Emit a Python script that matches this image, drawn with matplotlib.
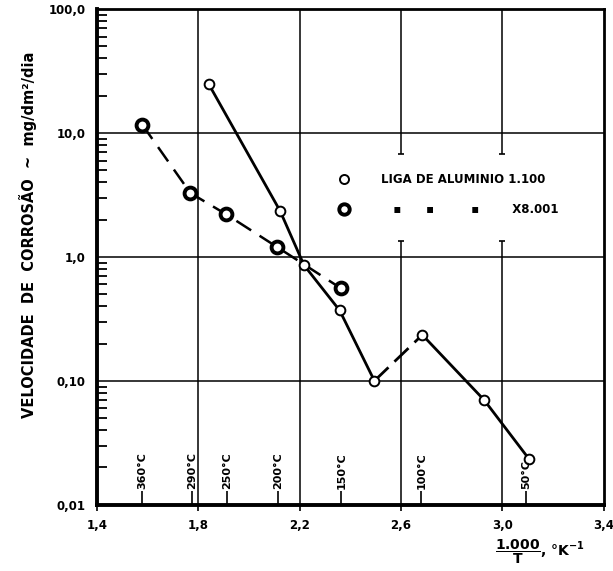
import matplotlib
matplotlib.use("Agg")
import matplotlib.pyplot as plt
from matplotlib.lines import Line2D

# liga de aluminio 1.100 (linha cheia)
x_1100 = [1.842, 2.123, 2.217, 2.358, 2.495, 2.684, 2.928, 3.105]
y_1100 = [24.7, 2.35, 0.86, 0.37, 0.10, 0.235, 0.070, 0.0234]

# liga X8.001 (tracejada)
x_8001 = [1.579, 1.769, 1.910, 2.109, 2.362]
y_8001 = [11.7, 3.28, 2.21, 1.21, 0.56]

# marcas de temperatura no eixo x
temp_x = [1.580, 1.776, 1.912, 2.114, 2.364, 2.680, 3.095]
temp_labels = ["360°C", "290°C", "250°C", "200°C", "150°C", "100°C", "50°C"]

x_ticks = [1.4, 1.8, 2.2, 2.6, 3.0, 3.4]
x_ticklabels = ["1,4", "1,8", "2,2", "2,6", "3,0", "3,4"]
y_ticks = [0.01, 0.1, 1, 10, 100]
y_ticklabels = ["0,01", "0,10", "1,0", "10,0", "100,0"]

plt.rcParams['font.family'] = ['DejaVu Sans']
plt.rcParams['font.weight'] = 'bold'

fig = plt.figure(figsize=(6.13, 5.71), dpi=100)
ax = fig.add_axes([0.158, 0.116, 0.827, 0.868])
ax.set_yscale('log')
ax.set_xlim(1.4, 3.4)
ax.set_ylim(0.01, 100)

# grade
for yv in y_ticks[1:-1]:
    ax.axhline(yv, color='black', lw=1.1, zorder=1)
gap = (1.35, 6.8)
for xv in x_ticks[1:-1]:
    if xv in (2.6, 3.0):
        ax.vlines(xv, 0.01, gap[0], color='black', lw=1.1, zorder=1)
        ax.vlines(xv, gap[1], 100, color='black', lw=1.1, zorder=1)
        ax.plot([xv, xv], gap, ls='none', marker='_', ms=5, mew=1.2, color='black')
    else:
        ax.vlines(xv, 0.01, 100, color='black', lw=1.1, zorder=1)

# curvas
ax.plot(x_1100[:5], y_1100[:5], color='black', lw=2.0, zorder=2)
ax.plot(x_1100[4:6], y_1100[4:6], color='black', lw=2.0, ls=(0, (7, 3)), zorder=2)
ax.plot(x_1100[5:], y_1100[5:], color='black', lw=2.0, zorder=2)
ax.plot(x_1100, y_1100, ls='none', marker='o', ms=7, mfc='white', mec='black', mew=1.4, zorder=3)

ax.plot(x_8001, y_8001, color='black', lw=1.8, ls=(0, (7, 4)), zorder=2)
ax.plot(x_8001, y_8001, ls='none', marker='o', ms=8.5, mfc='white', mec='black', mew=2.8, zorder=3)

# temperaturas
ax.vlines(temp_x, 0.01, 0.0128, color='black', lw=1.2)
for xv, lab in zip(temp_x, temp_labels):
    ax.text(xv, 0.0133, lab, rotation=90, ha='center', va='bottom', fontsize=8, fontweight='bold')

ax.set_xticks(x_ticks)
ax.set_xticklabels(x_ticklabels)
ax.set_yticks(y_ticks)
ax.set_yticklabels(y_ticklabels)
ax.tick_params(axis='x', direction='out', length=4, width=1.2, labelsize=8.5, pad=6)
ax.tick_params(axis='y', which='major', direction='in', length=0, labelsize=8.5, pad=8)
ax.tick_params(axis='y', which='minor', direction='in', length=7, width=1.3, labelleft=False)
for lab in ax.get_xticklabels() + ax.get_yticklabels():
    lab.set_fontweight('bold')

for s in ax.spines.values():
    s.set_linewidth(2.0)
ax.spines['left'].set_linewidth(2.8)
ax.spines['bottom'].set_linewidth(2.8)

ax.set_ylabel("VELOCIDADE  DE  CORROSÃO  ~  mg/dm²/dia", fontsize=10.5, fontweight='bold')
ax.yaxis.set_label_coords(-0.118, 0.545)

ax.text(0.785, -0.095, r"$\dfrac{\mathbf{1.000}}{\mathbf{T}}$, °K$^{-1}$", transform=ax.transAxes,
        fontsize=10, fontweight='bold', ha='left', va='center')

handles = [Line2D([], [], ls='none', marker='o', ms=6.5, mfc='white', mec='black', mew=1.4),
           Line2D([], [], ls='none', marker='o', ms=7.5, mfc='white', mec='black', mew=2.8)]
labels = ["LIGA DE ALUMINIO 1.100", "   ▪      ▪         ▪        X8.001"]
leg = ax.legend(handles, labels, loc='center left', bbox_to_anchor=(0.455, 0.626),
                frameon=False, handlelength=1.0, handletextpad=2.6, labelspacing=1.5,
                prop={'size': 8.5, 'weight': 'bold'})

fig.savefig("out.png", dpi=100)
